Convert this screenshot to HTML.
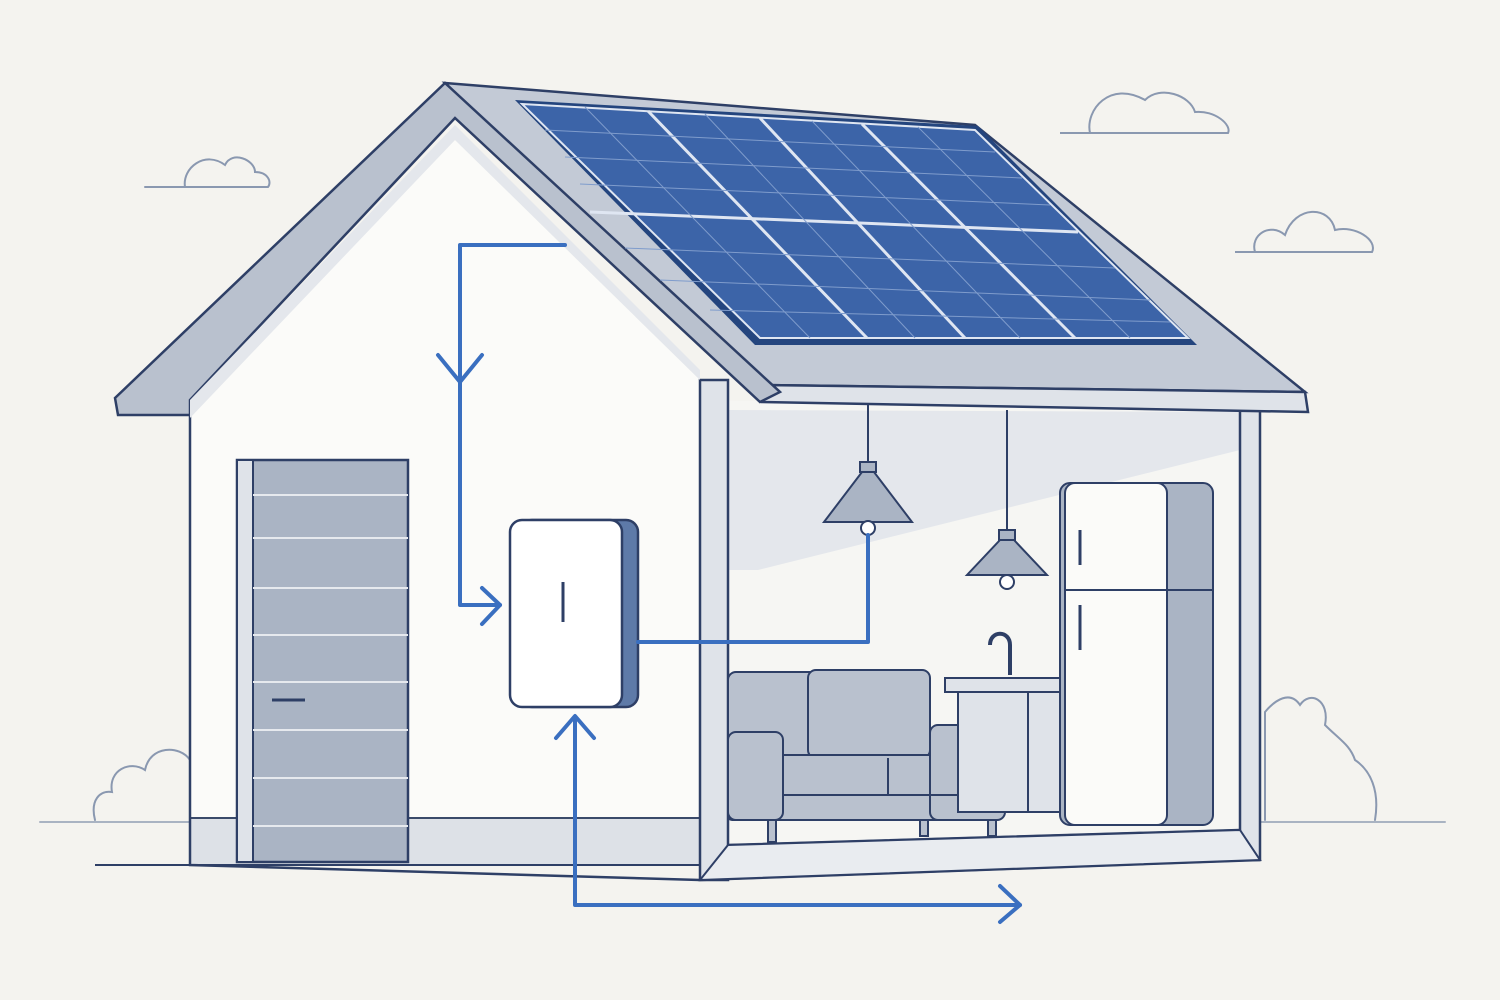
<!DOCTYPE html>
<html><head><meta charset="utf-8"><style>html,body{margin:0;padding:0;background:#f4f3ef}svg{display:block}</style></head><body>
<svg width="1500" height="1000" viewBox="0 0 1500 1000" xmlns="http://www.w3.org/2000/svg">
<rect width="1500" height="1000" fill="#f4f3ef"/>
<g fill="none" stroke="#8a98b0" stroke-width="2" stroke-linecap="round">
<path d="M145,187 L185,187 C182,168 205,150 225,165 C232,150 255,160 255,172 C268,172 272,182 268,187 L145,187"/>
<path d="M1060,133 L1090,133 C1085,110 1110,80 1145,100 C1160,85 1190,95 1195,112 C1215,110 1232,125 1228,133 Z"/>
<path d="M1235,252 L1255,252 C1250,235 1270,222 1285,235 C1295,205 1330,205 1335,230 C1355,225 1378,240 1372,252 Z"/>
<path d="M40,822 L1445,822" stroke="#a9b3c2"/>
<path d="M95,820 C90,800 100,790 112,792 C108,770 130,760 145,770 C150,745 180,745 190,760 L190,820"/>
<path d="M1265,820 L1265,712 C1275,700 1290,690 1300,705 C1310,690 1330,700 1325,725 C1340,740 1350,745 1355,760 C1370,770 1380,790 1375,820"/>
</g>
<!-- main structure -->
<polygon points="190,415 455,140 700,380 700,865 190,865" fill="#fbfbf9"/>
<polygon points="700,400 1250,410 1250,860 700,880" fill="#f6f6f3"/>
<polygon points="728,410 1240,412 1240,450 758,570 728,570" fill="#e4e7ec"/>
<polygon points="190,818 700,818 700,865 190,865" fill="#dde1e7" stroke="#3a4a6a" stroke-width="2"/>
<path d="M190,415 L190,865 L700,880" fill="none" stroke="#2e3f66" stroke-width="2.5"/>
<rect x="700" y="380" width="28" height="500" fill="#dfe3e9" stroke="#2e3f66" stroke-width="2.5"/>
<rect x="1240" y="410" width="20" height="450" fill="#dfe3e9" stroke="#2e3f66" stroke-width="2.5"/>
<path d="M700,880 L1260,860 M728,845 L1240,830" stroke="#2e3f66" stroke-width="2.5" fill="none"/>
<polygon points="728,845 1240,830 1260,860 700,880" fill="#e9ecf0" stroke="#2e3f66" stroke-width="2"/>
<path d="M95,865 L700,865" stroke="#2e3f66" stroke-width="2"/>
<!-- roof -->
<polygon points="445,83 975,125 1305,392 760,385" fill="#c3cad6" stroke="#2e3f66" stroke-width="2.5"/>
<polygon points="760,385 1305,392 1308,412 762,402" fill="#dfe3e9" stroke="#2e3f66" stroke-width="2.5"/>
<polygon points="115,398 445,83 780,392 760,402 455,118 190,400 190,415 118,415" fill="#b9c1ce" stroke="#2e3f66" stroke-width="2.5"/>
<polygon points="190,400 455,125 700,370 700,380 455,140 190,418" fill="#e4e7ec"/>
<!-- solar panel -->
<polygon points="515,100 978,126 1197,345 755,345" fill="#24457e"/>
<polygon points="522,104 975,130 1188,338 760,338" fill="#3c64a8" stroke="#dfe6f2" stroke-width="2"/>
<g stroke="#dfe6f2" stroke-width="3">
<line x1="648" y1="111" x2="867" y2="338"/>
<line x1="760" y1="118" x2="965" y2="338"/>
<line x1="862" y1="124" x2="1075" y2="338"/>
<line x1="590" y1="212" x2="1078" y2="232"/>
</g>
<g stroke="#7f9ccc" stroke-width="1">
<line x1="545" y1="130" x2="995" y2="152"/><line x1="565" y1="157" x2="1022" y2="178"/><line x1="580" y1="184" x2="1050" y2="205"/>
<line x1="625" y1="248" x2="1115" y2="268"/><line x1="660" y1="280" x2="1150" y2="300"/><line x1="710" y1="310" x2="1170" y2="322"/>
<line x1="585" y1="107" x2="810" y2="338"/><line x1="705" y1="114" x2="915" y2="338"/><line x1="812" y1="121" x2="1020" y2="338"/><line x1="918" y1="127" x2="1130" y2="338"/>
</g>
<!-- door -->
<rect x="237" y="460" width="171" height="402" fill="#aab4c4" stroke="#2e3f66" stroke-width="2.5"/>
<rect x="237" y="460" width="16" height="402" fill="#dfe3e9" stroke="#2e3f66" stroke-width="2"/>
<g stroke="#e6e9ee" stroke-width="2"><line x1="253" y1="538" x2="408" y2="538"/><line x1="253" y1="588" x2="408" y2="588"/><line x1="253" y1="635" x2="408" y2="635"/><line x1="253" y1="682" x2="408" y2="682"/><line x1="253" y1="730" x2="408" y2="730"/><line x1="253" y1="778" x2="408" y2="778"/><line x1="253" y1="826" x2="408" y2="826"/><line x1="253" y1="495" x2="408" y2="495"/></g>
<line x1="272" y1="700" x2="305" y2="700" stroke="#2e3f66" stroke-width="3"/>
<!-- inverter -->
<rect x="520" y="520" width="118" height="187" rx="12" fill="#5e7aa8" stroke="#2e3f66" stroke-width="2.5"/>
<rect x="510" y="520" width="112" height="187" rx="12" fill="#fff" stroke="#2e3f66" stroke-width="2.5"/>
<line x1="563" y1="582" x2="563" y2="622" stroke="#2e3f66" stroke-width="3"/>
<!-- lamps -->
<g stroke="#2e3f66" stroke-width="2">
<line x1="868" y1="405" x2="868" y2="465"/><rect x="860" y="462" width="16" height="10" fill="#aab4c4"/>
<path d="M862,472 L874,472 L912,522 L824,522 Z" fill="#aab4c4"/><circle cx="868" cy="528" r="7" fill="#fff"/>
<line x1="1007" y1="410" x2="1007" y2="532"/><rect x="999" y="530" width="16" height="10" fill="#aab4c4"/>
<path d="M1000,540 L1014,540 L1047,575 L967,575 Z" fill="#aab4c4"/><circle cx="1007" cy="582" r="7" fill="#fff"/>
</g>
<!-- sofa -->
<g stroke="#2e3f66" stroke-width="2" fill="#b9c1ce">
<rect x="728" y="672" width="95" height="85" rx="8"/><rect x="808" y="670" width="122" height="88" rx="8"/>
<rect x="728" y="755" width="260" height="65" rx="4"/>
<rect x="728" y="732" width="55" height="88" rx="8"/><rect x="930" y="725" width="75" height="95" rx="8"/>
<line x1="888" y1="758" x2="888" y2="795"/><line x1="783" y1="795" x2="985" y2="795"/>
<rect x="768" y="820" width="8" height="22"/><rect x="920" y="820" width="8" height="16"/><rect x="988" y="820" width="8" height="16"/>
<!-- counter -->
<rect x="945" y="678" width="118" height="14" fill="#dfe3e9"/>
<rect x="958" y="692" width="105" height="120" fill="#dfe3e9"/>
<line x1="1028" y1="692" x2="1028" y2="812"/>
<path d="M990,645 C990,630 1010,630 1010,645 L1010,675" fill="none" stroke-width="4"/>
<!-- fridge -->
<rect x="1060" y="483" width="153" height="342" rx="10" fill="#aab4c4"/>
<rect x="1065" y="483" width="102" height="342" rx="10" fill="#fbfbf9"/>
<line x1="1065" y1="590" x2="1213" y2="590"/>
<line x1="1080" y1="530" x2="1080" y2="565" stroke-width="3"/><line x1="1080" y1="605" x2="1080" y2="650" stroke-width="3"/>
</g>
<!-- blue wires -->
<g fill="none" stroke="#3a6fc0" stroke-width="4" stroke-linecap="round" stroke-linejoin="round">
<path d="M565,245 L460,245 L460,605 L500,605"/>
<path d="M438,355 L460,382 L482,355"/>
<path d="M482,588 L500,605 L482,624"/>
<path d="M638,642 L868,642 L868,535"/>
<path d="M575,718 L575,905 L1020,905"/>
<path d="M556,738 L575,716 L594,738"/>
<path d="M1000,886 L1020,905 L1000,922"/>
</g>
</svg>
</body></html>
